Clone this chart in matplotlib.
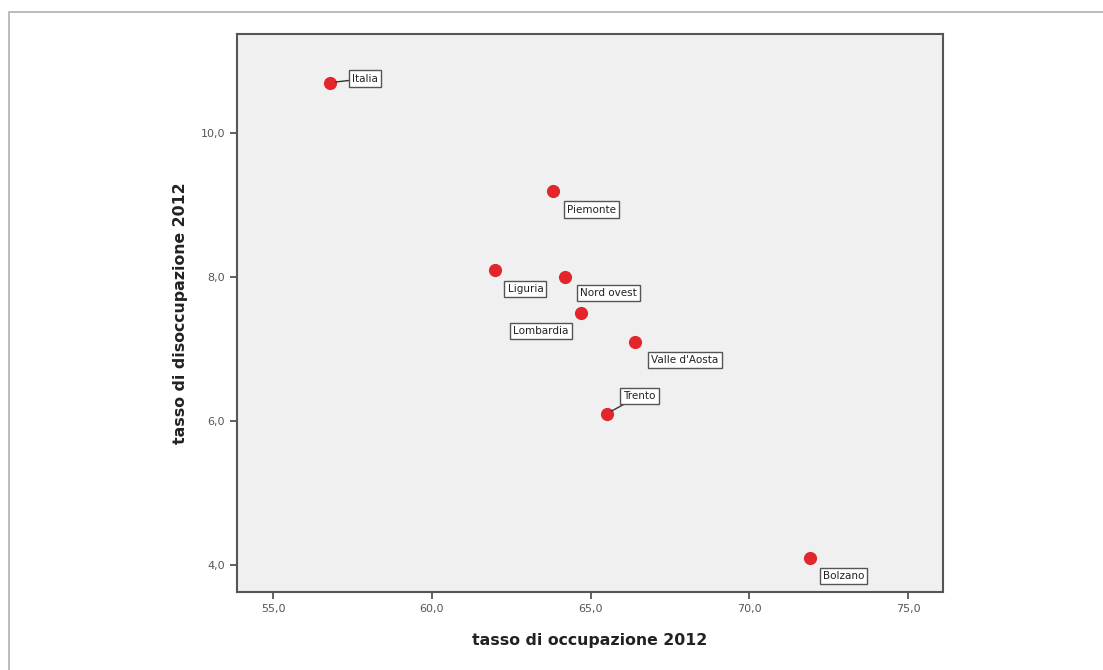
import matplotlib.pyplot as plt
from matplotlib.patches import Rectangle
from matplotlib.ticker import FuncFormatter

# dati 2012
regioni = ["Italia", "Piemonte", "Liguria", "Nord ovest", "Lombardia",
           "Valle d'Aosta", "Trento", "Bolzano"]
occupazione = [56.8, 63.8, 62.0, 64.2, 64.7, 66.4, 65.5, 71.9]
disoccupazione = [10.7, 9.2, 8.1, 8.0, 7.5, 7.1, 6.1, 4.1]

# offset etichette in pixel (centro del riquadro rispetto al punto)
offsets = [(35, 4), (39, -19), (30, -19), (43, -16), (-40, -18),
           (50, -18), (33, 18), (34, -18)]
connettori = ["Italia", "Trento"]

fig = plt.figure(figsize=(11.03, 6.70), dpi=100)
fig.patches.append(Rectangle((9 / 1103, -0.2), 1.2, 1.2 - 12 / 670, transform=fig.transFigure,
                             fill=False, edgecolor='#b0b0b0', linewidth=1.2))

ax = fig.add_axes([237 / 1103, 1 - 592 / 670, (943 - 237) / 1103, (592 - 34) / 670])
ax.set_facecolor('#f0f0f0')
ax.set_xlim(53.86, 76.1)
ax.set_ylim(3.625, 11.375)

ax.scatter(occupazione, disoccupazione, s=90, color='#e3262b', zorder=3, linewidths=0)

for nome, x, y, (dx, dy) in zip(regioni, occupazione, disoccupazione, offsets):
    arrow = None
    if nome in connettori:
        arrow = dict(arrowstyle='-', color='#333333', lw=1.0, shrinkA=0, shrinkB=4)
    ax.annotate(nome, (x, y), xytext=(dx, dy), textcoords='offset pixels',
                ha='center', va='center', fontsize=7.5, color='#222222',
                bbox=dict(boxstyle='square,pad=0.3', fc='white', ec='#555555', lw=1.0),
                arrowprops=arrow, zorder=4)

ax.set_xticks([55, 60, 65, 70, 75])
ax.set_yticks([4, 6, 8, 10])
fmt = FuncFormatter(lambda v, p: f"{v:.1f}".replace('.', ','))
ax.xaxis.set_major_formatter(fmt)
ax.yaxis.set_major_formatter(fmt)
ax.tick_params(direction='out', length=5, width=1.3, color='#555555',
               labelsize=8, labelcolor='#555555')
for s in ax.spines.values():
    s.set_color('#555555')
    s.set_linewidth(1.5)

ax.set_xlabel("tasso di occupazione 2012", fontsize=11.3, fontweight='bold',
              color='#222222', labelpad=14)
ax.set_ylabel("tasso di disoccupazione 2012", fontsize=11.3, fontweight='bold',
              color='#222222', labelpad=9)

plt.savefig('out.png', dpi=100)
plt.close()
